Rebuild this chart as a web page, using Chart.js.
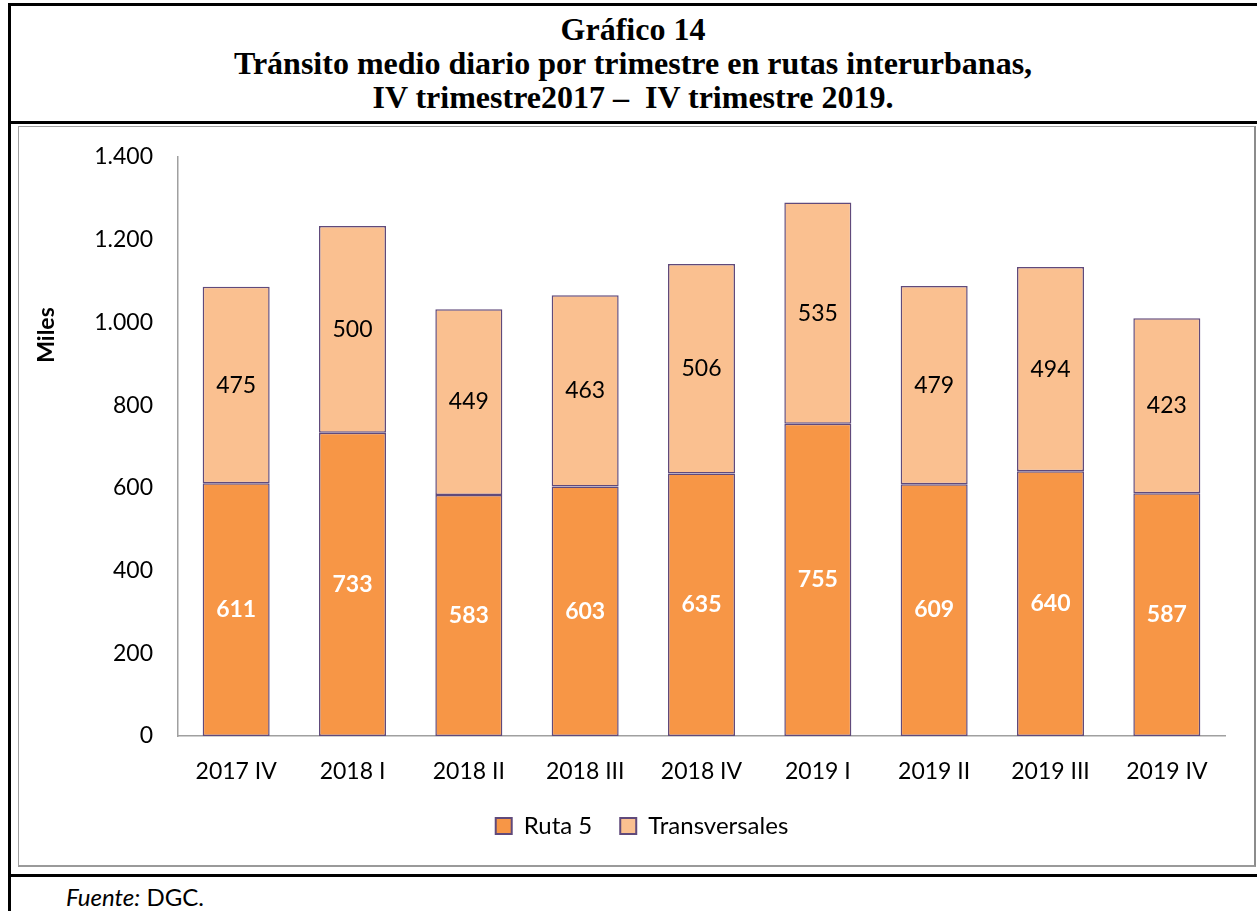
<!DOCTYPE html>
<html lang="es">
<head>
  <meta charset="UTF-8">
  <title>Gráfico 14</title>
  <style>
    body {
      margin: 0;
      background: #ffffff;
      width: 1257px;
      height: 911px;
      overflow: hidden;
      position: relative;
    }

    .frame {
      position: absolute;
      left: 8px;
      top: 3px;
      width: 1260px;
      height: 920px;
      border-left: 3px solid #000;
      border-top: 3px solid #000;
      box-sizing: border-box;
    }

    .hline {
      position: absolute;
      left: 8px;
      width: 1260px;
      height: 3px;
      background: #000;
    }

    .title {
      position: absolute;
      left: 8px;
      width: 1250px;
      top: 12px;
      text-align: center;
      font-family: "Liberation Serif", "Times New Roman", serif;
      font-weight: bold;
      font-size: 32px;
      line-height: 34px;
      color: #000;
    }

    .chartBox {
      position: absolute;
      left: 18px;
      top: 126px;
      width: 1238px;
      height: 741px;
      border: 1px solid #a0a0a0;
      border-right: 2px solid #8c8c8c;
      border-bottom: 2px solid #9a9a9a;
      box-sizing: border-box;
    }

    .chartBox canvas {
      position: absolute;
      left: 0;
      top: 0;
    }

    .source {
      position: absolute;
      left: 66px;
      top: 882px;
      font-family: Lato, "Open Sans", sans-serif;
      font-size: 24px;
      color: #000;
    }
  </style>
</head>
<body>
  <div class="frame"></div>
  <div class="title">
    Gráfico 14<br>
    Tránsito medio diario por trimestre en rutas interurbanas,<br>
    IV trimestre2017 –&nbsp; IV trimestre 2019.
  </div>
  <div class="hline" style="top: 121px;"></div>
  <div class="chartBox">
    <canvas id="trafficChart" width="1235" height="739"></canvas>
  </div>
  <div class="hline" style="top: 874px;"></div>
  <div class="source"><i>Fuente:</i> DGC.</div>

  <script src="https://cdn.jsdelivr.net/npm/chart.js"></script>
  <script>
    const quarters = ['2017 IV', '2018 I', '2018 II', '2018 III', '2018 IV', '2019 I', '2019 II', '2019 III', '2019 IV'];
    const ruta5 = [611, 733, 583, 603, 635, 755, 609, 640, 587];
    const transversales = [475, 500, 449, 463, 506, 535, 479, 494, 423];
    const yTicks = [0, 200, 400, 600, 800, 1000, 1200, 1400];
    const yTitle = 'Miles';

    const FONT = 'Lato, "Open Sans", sans-serif';

    function formatMiles(v) {
      return v.toString().replace(/\B(?=(\d{3})+(?!\d))/g, '.');
    }

    // valores dentro de cada segmento y rótulo del eje (como en Excel, no centrado)
    const barValues = {
      id: 'barValues',
      afterDatasetsDraw(chart) {
        const ctx = chart.ctx;
        ctx.save();
        ctx.textAlign = 'center';
        ctx.textBaseline = 'middle';
        chart.data.datasets.forEach((ds, i) => {
          const meta = chart.getDatasetMeta(i);
          ctx.font = (i === 0 ? 'bold ' : '') + '23px ' + FONT;
          ctx.fillStyle = i === 0 ? '#ffffff' : '#000000';
          meta.data.forEach((bar, j) => {
            const p = bar.getProps(['x', 'y', 'base'], true);
            ctx.fillText(formatMiles(ds.data[j]), p.x, (p.y + p.base) / 2);
          });
        });

        const area = chart.chartArea;
        ctx.translate(area.left - 131, area.top + 178);
        ctx.rotate(-Math.PI / 2);
        ctx.font = 'bold 23px ' + FONT;
        ctx.fillStyle = '#000';
        ctx.fillText(yTitle, 0, 0);
        ctx.restore();
      }
    };

    const ctx = document.getElementById('trafficChart').getContext('2d');
    const chart = new Chart(ctx, {
      type: 'bar',
      data: {
        labels: quarters,
        datasets: [{
          label: 'Ruta 5',
          data: ruta5,
          backgroundColor: '#f79646',
          borderColor: '#604a7b',
          borderWidth: 1.5,
          borderSkipped: false
        }, {
          label: 'Transversales',
          data: transversales,
          backgroundColor: '#fac090',
          borderColor: '#604a7b',
          borderWidth: 1.5,
          borderSkipped: false
        }]
      },
      options: {
        responsive: false,
        animation: false,
        layout: {
          padding: { top: 30, right: 29, bottom: 18, left: 40 }
        },
        datasets: {
          bar: {
            barPercentage: 0.576,
            categoryPercentage: 1
          }
        },
        plugins: {
          legend: {
            position: 'bottom',
            labels: {
              boxWidth: 16,
              boxHeight: 16,
              padding: 28,
              color: '#000',
              font: { family: FONT, size: 24 },
              generateLabels(chart) {
                return chart.data.datasets.map((ds, i) => ({
                  text: ds.label,
                  fillStyle: ds.backgroundColor,
                  strokeStyle: '#604a7b',
                  lineWidth: 2,
                  datasetIndex: i
                }));
              }
            }
          },
          tooltip: { enabled: false }
        },
        scales: {
          x: {
            stacked: true,
            afterFit(scale) { scale.height = 50; },
            grid: { display: false, drawTicks: false },
            border: { display: true, color: '#a0a0a0', width: 1.5 },
            ticks: {
              color: '#000',
              padding: 22,
              maxRotation: 0,
              font: { family: FONT, size: 23 }
            }
          },
          y: {
            stacked: true,
            min: 0,
            max: 1400,
            afterFit(scale) {
              scale.width = 119;
              scale.paddingTop = 0;
              scale.paddingBottom = 0;
            },
            afterBuildTicks(scale) {
              scale.ticks = yTicks.map(v => ({ value: v }));
            },
            grid: { display: false, drawTicks: false },
            border: { display: true, color: '#a0a0a0', width: 1.5 },
            ticks: {
              color: '#000',
              padding: 25,
              font: { family: FONT, size: 23 },
              callback: v => formatMiles(v)
            }
          }
        }
      },
      plugins: [barValues]
    });
  </script>
</body>
</html>
